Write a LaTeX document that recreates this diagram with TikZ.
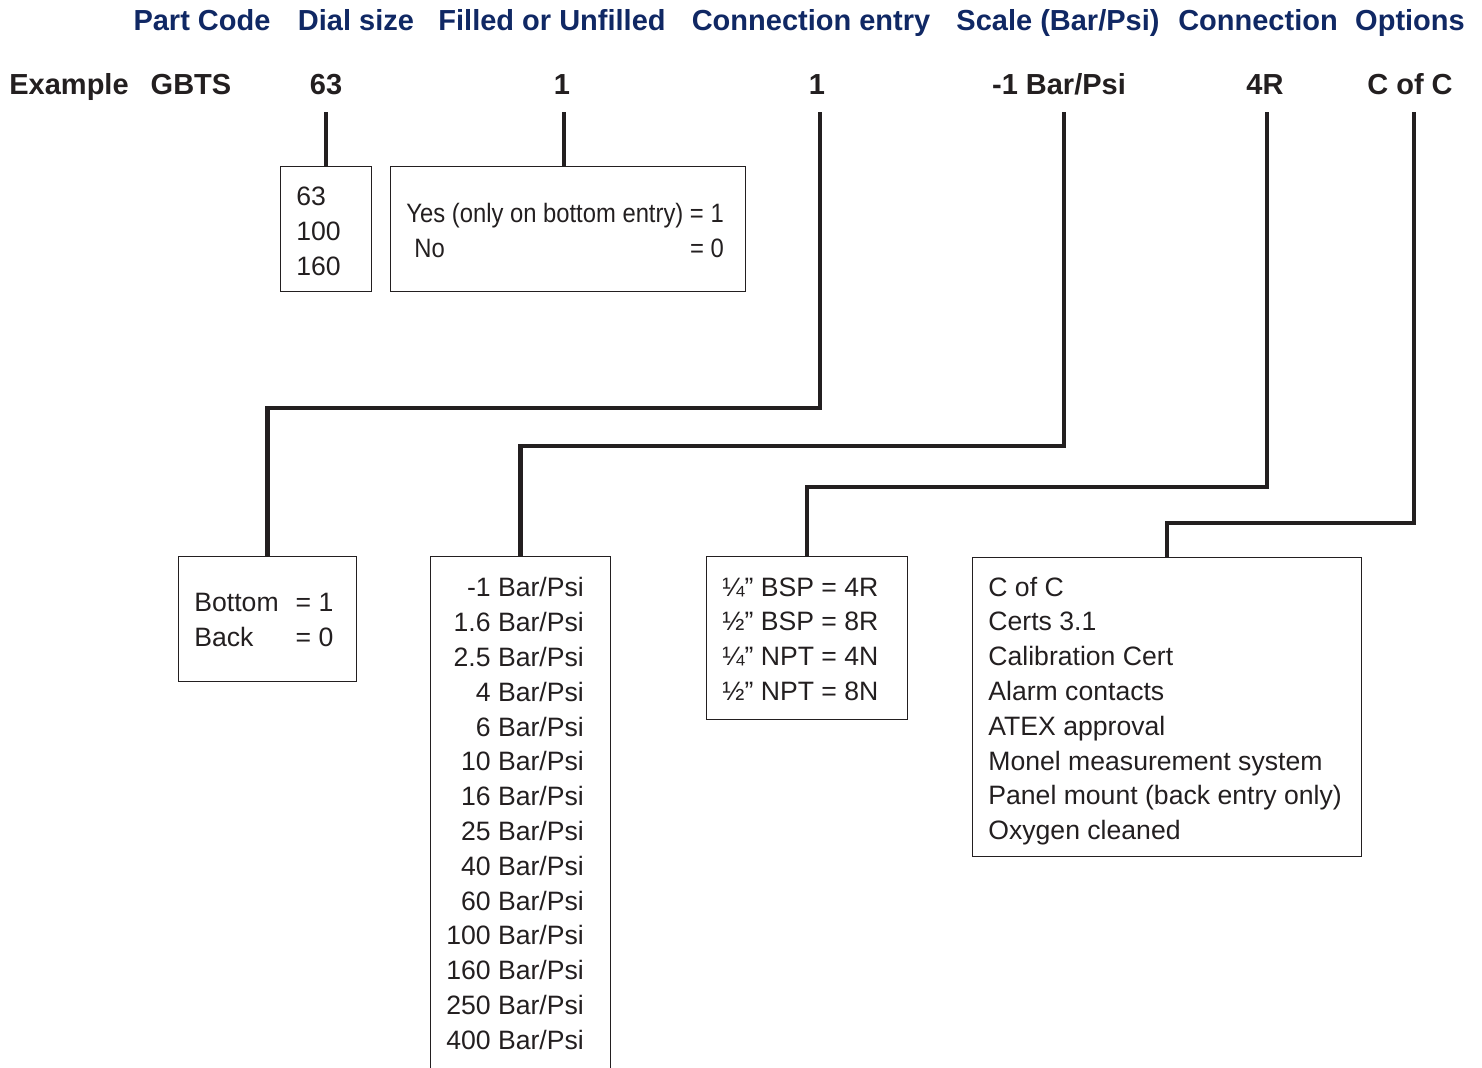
\documentclass[tikz,border=0pt]{standalone}
\usepackage{fontspec}
\setmainfont{Liberation Sans}
\usetikzlibrary{positioning}

\definecolor{navy}{RGB}{16,40,100}
\definecolor{ink}{RGB}{35,31,32}

\begin{document}
\begin{tikzpicture}[
x=0.5pt, y=-0.5pt,
head/.style={font=\fontsize{14.5}{17}\selectfont\bfseries, text=navy,
anchor=base, inner sep=0pt},
val/.style={font=\fontsize{14.5}{17}\selectfont\bfseries, text=ink,
anchor=base, inner sep=0pt, text depth=0pt, outer ysep=9pt},
box/.style={draw=ink, line width=0.6pt, anchor=north west, inner sep=0pt},
txt/.style={font=\fontsize{13.3}{17.4}\selectfont, text=ink, inner sep=0pt},
lead/.style={draw=ink, line width=2.2pt}
]
\useasboundingbox (0,0) rectangle (1482,1067);

% column headings
\node[head] (hpart) at (202,30) {Part Code};
\node[head] (hdial) at (356,30) {Dial size};
\node[head] (hfill) at (552,30) {Filled or Unfilled};
\node[head] (hentry) at (811,30) {Connection entry};
\node[head] (hscale) at (1058,30) {Scale (Bar/Psi)};
\node[head] (hconn) at (1258,30) {Connection};
\node[head] (hopt) at (1410,30) {Options};

% example code
\node[val, anchor=base west] (vex) at (9,94) {Example};
\node[val] (vgbts) at (191,94) {GBTS};
\node[val] (vdial) at (326,94) {63};
\node[val] (vfill) at (562,94) {1};
\node[val] (ventry) at (817,94) {1};
\node[val] (vscale) at (1059,94) {-1 Bar/Psi};
\node[val] (vconn) at (1265,94) {4R};
\node[val] (vopt) at (1410,94) {C of C};

% option boxes
\node[box, minimum width=45.5pt, minimum height=62.5pt] (dial) at (280,166) {};
\node[box, minimum width=177.5pt, minimum height=62.5pt] (fill) at (390,166) {};
\node[box, minimum width=89pt, minimum height=62.5pt] (entry) at (178,556) {};
\node[box, minimum width=90pt, minimum height=257pt] (scale) at (430,556) {};
\node[box, minimum width=100.5pt, minimum height=81.5pt] (conn) at (706,556) {};
\node[box, minimum width=194.5pt, minimum height=149.5pt] (opt) at (972,557) {};

\node[txt, anchor=west, align=left] (dialtxt) at ([xshift=8pt,yshift=-1pt]dial.west)
{63\\100\\160};
\node[txt, anchor=west] (filltxt) at ([xshift=8pt,yshift=-2pt]fill.west)
{\scalebox{0.895}[1]{\begin{tabular}{@{}l@{}}Yes (only on bottom entry) = 1\hspace{3pt}\\
\hspace{4.5pt}No\hfill= 0\end{tabular}}};
\node[txt, anchor=west] (entrytxt) at ([xshift=8pt,yshift=-1.5pt]entry.west)
{\begin{tabular}{@{}l@{\hspace{8.5pt}}l@{}}Bottom & = 1\\Back & = 0\end{tabular}};
\node[txt, anchor=east, align=right] (scaletxt) at ([xshift=-13.5pt]scale.east)
{-1 Bar/Psi\\1.6 Bar/Psi\\2.5 Bar/Psi\\4 Bar/Psi\\6 Bar/Psi\\10 Bar/Psi\\
16 Bar/Psi\\25 Bar/Psi\\40 Bar/Psi\\60 Bar/Psi\\100 Bar/Psi\\160 Bar/Psi\\
250 Bar/Psi\\400 Bar/Psi};
\node[txt, anchor=west, align=left] (conntxt) at ([xshift=8pt,yshift=-0.5pt]conn.west)
{¼” BSP = 4R\\½” BSP = 8R\\¼” NPT = 4N\\½” NPT = 8N};
\node[txt, anchor=west, align=left] (opttxt) at ([xshift=8pt,yshift=-2pt]opt.west)
{C of C\\Certs 3.1\\Calibration Cert\\Alarm contacts\\ATEX approval\\
Monel measurement system\\Panel mount (back entry only)\\Oxygen cleaned};

% leader lines
\coordinate (lvlentry) at (0,408);
\coordinate (lvlscale) at (0,446);
\coordinate (lvlconn) at (0,487);
\coordinate (lvlopt) at (0,523);

\draw[lead] (vdial.south) -- (vdial.south |- dial.north);
\draw[lead] ([xshift=1pt]vfill.south) -- ([xshift=1pt]vfill.south |- fill.north);
\draw[lead] ([xshift=1.5pt]ventry.south) |- (entry.north |- lvlentry) -- (entry.north);
\draw[lead] ([xshift=2.5pt]vscale.south) |- (scale.north |- lvlscale) -- (scale.north);
\draw[lead] ([xshift=1pt]vconn.south) |- (conn.north |- lvlconn) -- (conn.north);
\draw[lead] ([xshift=2pt]vopt.south) |- (opt.north |- lvlopt) -- (opt.north);
\end{tikzpicture}
\end{document}
